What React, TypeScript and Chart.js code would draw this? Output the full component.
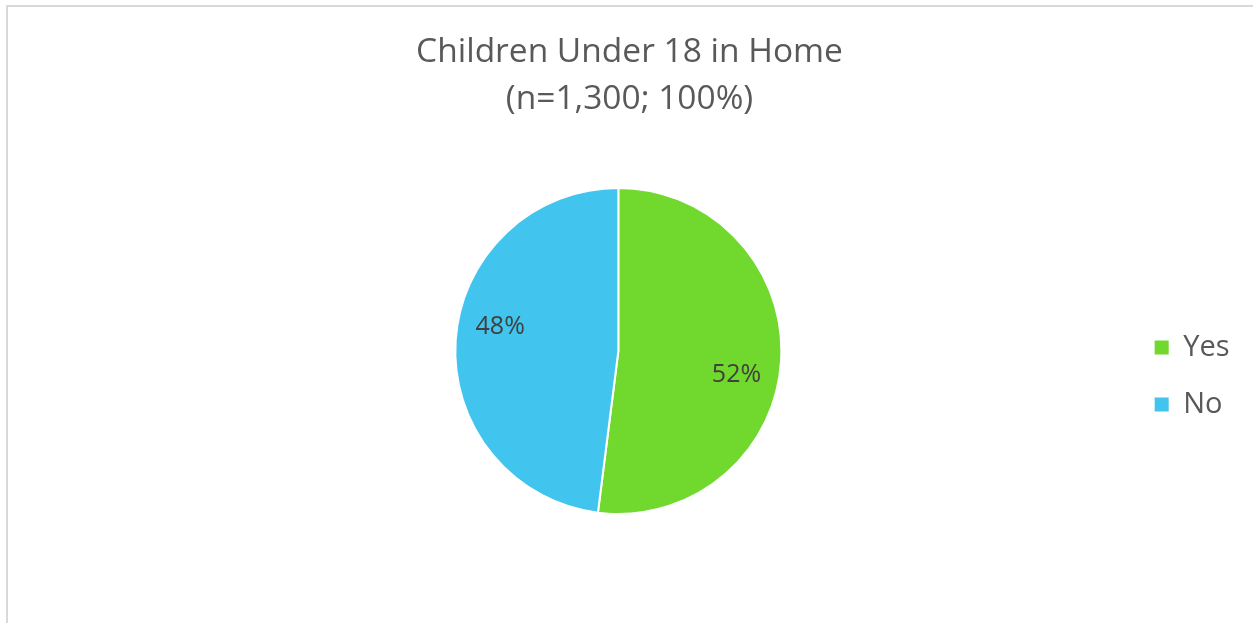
import React, { useEffect, useRef } from "react";
import { Chart, registerables } from "chart.js";

Chart.register(...registerables);

const categories: string[] = ["Yes", "No"];
const values: number[] = [52, 48];
const sliceColors: string[] = ["#71D82E", "#41C4ED"];
const titleLines: string[] = ["Children Under 18 in Home", "(n=1,300; 100%)"];

const FONT = "'Open Sans', Lato, sans-serif";

const sliceLabelPlugin = {
  id: "sliceLabels",
  afterDatasetsDraw(chart: any) {
    const ctx = chart.ctx;
    const meta = chart.getDatasetMeta(0);
    const total = values.reduce((a, b) => a + b, 0);
    ctx.save();
    ctx.font = `25px ${FONT}`;
    ctx.fillStyle = "#404040";
    ctx.textAlign = "center";
    ctx.textBaseline = "middle";
    meta.data.forEach((arc: any, i: number) => {
      const p = arc.getProps(["x", "y", "startAngle", "endAngle", "outerRadius"], true);
      const mid = (p.startAngle + p.endAngle) / 2 + 0.14;
      const r = p.outerRadius * 0.74;
      const text = `${Math.round((values[i] / total) * 100)}%`;
      ctx.fillText(text, p.x + Math.cos(mid) * r, p.y + Math.sin(mid) * r);
    });
    ctx.restore();
  },
};

// Two-line title centred on the whole chart box (not the padded plot region).
const TITLE_TOP = 29;
const TITLE_LINE_HEIGHT = 47;
const centeredTitlePlugin = {
  id: "centeredTitle",
  afterDraw(chart: any) {
    const ctx = chart.ctx;
    ctx.save();
    ctx.font = `33.5px ${FONT}`;
    ctx.fillStyle = "#595959";
    ctx.textAlign = "center";
    ctx.textBaseline = "middle";
    titleLines.forEach((line, i) => {
      ctx.fillText(line, chart.width / 2, TITLE_TOP + TITLE_LINE_HEIGHT * (i + 0.5));
    });
    ctx.restore();
  },
};

export default function App() {
  const canvasRef = useRef<HTMLCanvasElement | null>(null);

  useEffect(() => {
    const canvas = canvasRef.current;
    if (!canvas) return;
    const chart = new Chart(canvas, {
      type: "pie",
      data: {
        labels: categories,
        datasets: [
          {
            data: values,
            backgroundColor: sliceColors,
            borderColor: "#ffffff",
            borderWidth: 2,
          },
        ],
      },
      options: {
        animation: false,
        responsive: false,
        maintainAspectRatio: false,
        layout: { padding: { left: 104, right: 13.5, top: 187, bottom: 108 } },
        plugins: {
          tooltip: { enabled: false },
          title: { display: false },
          legend: {
            display: true,
            position: "right",
            align: "center",
            title: {
              display: true,
              text: " ",
              font: { family: FONT, size: 20, lineHeight: 1 },
              padding: 15,
            },
            labels: {
              color: "#595959",
              font: { family: FONT, size: 29 },
              boxWidth: 14,
              boxHeight: 14,
              padding: 28,
              generateLabels: (c: any) =>
                (Chart as any).overrides.pie.plugins.legend.labels
                  .generateLabels(c)
                  .map((l: any) => ({ ...l, lineWidth: 0 })),
            },
          },
        },
      },
      plugins: [sliceLabelPlugin, centeredTitlePlugin],
    });
    return () => chart.destroy();
  }, []);

  return (
    <div
      style={{
        position: "fixed",
        left: 0,
        top: 0,
        width: "100vw",
        height: "100vh",
        overflow: "hidden",
        background: "#ffffff",
      }}
    >
      <div
        style={{
          position: "absolute",
          left: 6,
          top: 5,
          width: 1400,
          height: 800,
          borderTop: "2px solid #d9d9d9",
          borderLeft: "2px solid #d9d9d9",
        }}
      />
      <canvas
        ref={canvasRef}
        width={1247}
        height={623}
        style={{ position: "absolute", left: 6, top: 0, width: 1247, height: 623 }}
      />
    </div>
  );
}
